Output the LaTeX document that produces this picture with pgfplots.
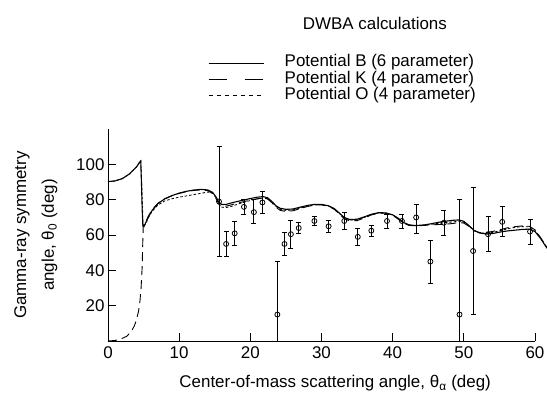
\documentclass[border=0pt]{standalone}
\usepackage{fontspec}
\setmainfont{Liberation Sans}
\usepackage{pgfplots}
\usepackage{pgfplotstable}
\pgfplotsset{compat=1.18}

% DWBA curves, potential B (6 parameter)
\pgfplotstableread{
x y
0 90.3
1 90.7
2 92.0
3 94.6
4 98.6
4.5 101.6
4.6 102
4.7 90
4.8 75
4.9 65
5.05 64.8
5.3 67
5.7 70.5
6.2 74
7 77.8
8 80.6
9 82.4
10 83.8
11 84.8
12 85.5
13 85.9
14 85.6
14.7 84.2
15.2 81.5
15.6 78.5
16 77.3
16.6 77.4
17.3 78.2
18 78.9
19 79.8
20 80.7
21 81.5
21.8 81.8
22.4 81.2
23 79.2
23.6 76.6
24.2 75.2
25 74.6
26 74.8
27 75.8
28 76.8
29 77.4
30 77.4
31 76.6
31.8 75
32.5 72.5
33.2 70
34 68.8
35 69
36 70.3
37 71.8
38 72.7
39 72.6
40 71.5
40.8 69.5
41.5 67.2
42.3 65.8
43.3 65.4
44.5 65.8
45.5 66.5
46.5 67.3
47.5 67.9
48.5 68.4
49.3 68.6
50 67.8
50.7 65.5
51.4 62.8
52.2 61.2
53.2 60.6
54.2 61
55.2 61.8
56.2 62.4
57.2 62.8
58.2 63.2
59.2 63.4
60 62
60.8 58
61.7 52.5
}\potB

% potential K (4 parameter)
\pgfplotstableread{
x y
0 0
1 0.3
2 1.5
2.6 2.6
3.2 5
3.7 8.5
4.0 12
4.3 17
4.5 23
4.65 30
4.8 42
4.88 55
4.95 64.8
5.3 67.5
5.7 71
6.2 74.3
7 78
8 80.6
9 82.3
10 83.6
11 84.6
12 85.3
13 85.6
14 85.2
14.7 83.6
15.2 80.5
15.6 77.5
16 76.3
16.6 76.4
17.3 77.1
18 77.9
19 78.9
20 79.8
21 80.6
21.8 81
22.4 80.5
23 78.5
23.6 75.8
24.2 74
25 73.4
26 73.8
27 75
28 76.2
29 77
30 77.1
31 76.3
31.8 74.6
32.5 72
33.2 69.3
34 68
35 68.2
36 69.7
37 71.4
38 72.4
39 72.4
40 71.2
40.8 69
41.5 66.8
42.3 65.5
43.3 65.2
44.5 65.5
45.5 65.8
46.5 66
47.5 66.2
48.5 66.6
49.3 67.2
50 66.8
50.7 65
51.4 62.5
52.2 61.5
53.2 61.5
54.2 62.2
55.2 63.2
56.2 64.2
57.2 64.8
58.2 65.2
59.2 65
60 63
60.8 58.5
61.7 53
}\potK

% potential O (4 parameter)
\pgfplotstableread{
x y
0 90.3
1 90.7
2 92.0
3 94.6
4 98.6
4.5 101.6
4.6 102
4.75 88
4.85 75
4.95 64.5
5.3 66.5
5.7 70
6.2 73.5
7 77
8 79.4
9 80.6
10 81.5
11 82.2
12 82.9
13 83.6
14 84.4
14.7 83.8
15.2 81
15.6 77.5
16 75.8
16.6 75.6
17.3 76.2
18 77.2
19 78.5
20 79.6
21 80.5
21.8 81
22.4 80.6
23 78.8
23.6 76.3
24.2 74.6
25 74
26 74.3
27 75.3
28 76.4
29 77.1
30 77.2
31 76.4
31.8 74.8
32.5 72.3
33.2 69.8
34 68.5
35 68.6
36 70
37 71.6
38 72.5
39 72.5
40 71.4
40.8 69.3
41.5 67
42.3 65.7
43.3 65.3
44.5 65.7
45.5 66.2
46.5 66.7
47.5 67.1
48.5 67.5
49.3 67.9
50 67.3
50.7 65.2
51.4 62.6
52.2 61.3
53.2 61
54.2 61.6
55.2 62.6
56.2 63.6
57.2 64.4
58.2 64.8
59.2 64.7
60 62.8
60.8 58.3
61.7 52.8
}\potO

% measured symmetry angles with errors
\pgfplotstableread{
x y ep em
15.6 79 31 31
16.6 55 7 7
17.8 61 7 7
19.1 76 4 4
20.5 73 7 6.5
21.7 78.5 6.5 6
23.8 15 30 15
24.8 55 6.5 6.5
25.7 60.5 8 8
26.8 64 3 3
29.0 68 2.5 2.5
31.0 65 3.5 3.5
33.2 68 5 5
35.1 59 5 5
37.0 62.5 3 3
39.2 68 4 4
41.3 68 4 4
43.3 70 7.5 9
45.3 45 12 12.5
47.2 67 7 7
49.4 15 65 15
51.3 51 36 36
53.4 60.5 10 10
55.4 67.5 8.5 8.5
59.3 62 7 7
}\meas

\begin{document}
\begin{tikzpicture}
\path[use as bounding box] (-108bp,-61bp) rectangle (439bp,341bp);
\begin{axis}[
  at={(0,0)}, anchor=south west,
  scale only axis, width=427bp, height=211.8bp,
  xmin=0, xmax=60, ymin=0, ymax=120,
  axis lines*=left,
  axis line style={line width=0.8bp},
  clip=false,
  xtick={0,10,...,60}, ytick={20,40,...,100},
  tick align=inside, major tick length=8bp,
  tick style={line width=0.8bp, black},
  /pgf/number format/assume math mode=true,
  font=\fontsize{17}{20}\selectfont,
  tick label style={font=\fontsize{17}{20}\selectfont},
  xticklabel style={yshift=-2bp},
  yticklabel style={xshift=0bp},
  xlabel={Center-of-mass scattering angle, θ\textsubscript{α} (deg)},
  ylabel={Gamma-ray symmetry\\angle, θ\textsubscript{0} (deg)},
  every axis x label/.style={at={(axis description cs:0.532,-0.20)}, anchor=center},
  every axis y label/.style={at={(axis description cs:-0.169,0.5)}, rotate=90, anchor=center, align=center, font=\fontsize{17}{28}\selectfont},
  title={DWBA calculations},
  title style={at={(axis description cs:0.625,1.469)}, anchor=center},
  legend image code/.code={\draw[#1] (0bp,0bp) -- (55bp,0bp);},
  legend cell align=left,
  legend style={draw=none, fill=none, at={(axis description cs:0.234,1.35)}, anchor=north west,
    inner sep=0pt, column sep=20bp, row sep=0pt,
    nodes={inner sep=0.6bp, text height=11bp, text depth=4bp, font=\fontsize{17}{20}\selectfont}},
]
\addlegendimage{black, line width=1bp}
\addlegendentry{Potential B (6 parameter)}
\addlegendimage{black, line width=0.9bp, dash pattern=on 18bp off 18bp}
\addlegendentry{Potential K (4 parameter)}
\addlegendimage{black, line width=0.8bp, dash pattern=on 4bp off 4bp}
\addlegendentry{Potential O (4 parameter)}

\addplot[forget plot, black, line width=1.1bp] table {\potB};
\addplot[forget plot, black, line width=0.9bp, dash pattern=on 9bp off 5bp] table {\potK};
\addplot[forget plot, black, line width=0.8bp, dash pattern=on 2.5bp off 2bp] table {\potO};

\addplot[forget plot, only marks, black, mark=o, mark size=2.5bp,
  mark options={fill=white, line width=0.8bp},
  error bars/.cd, y dir=both, y explicit,
  error bar style={line width=0.8bp},
  error mark options={rotate=90, mark size=2.5bp, line width=0.8bp}]
  table[x=x, y=y, y error plus=ep, y error minus=em] {\meas};
\end{axis}
\end{tikzpicture}
\end{document}
